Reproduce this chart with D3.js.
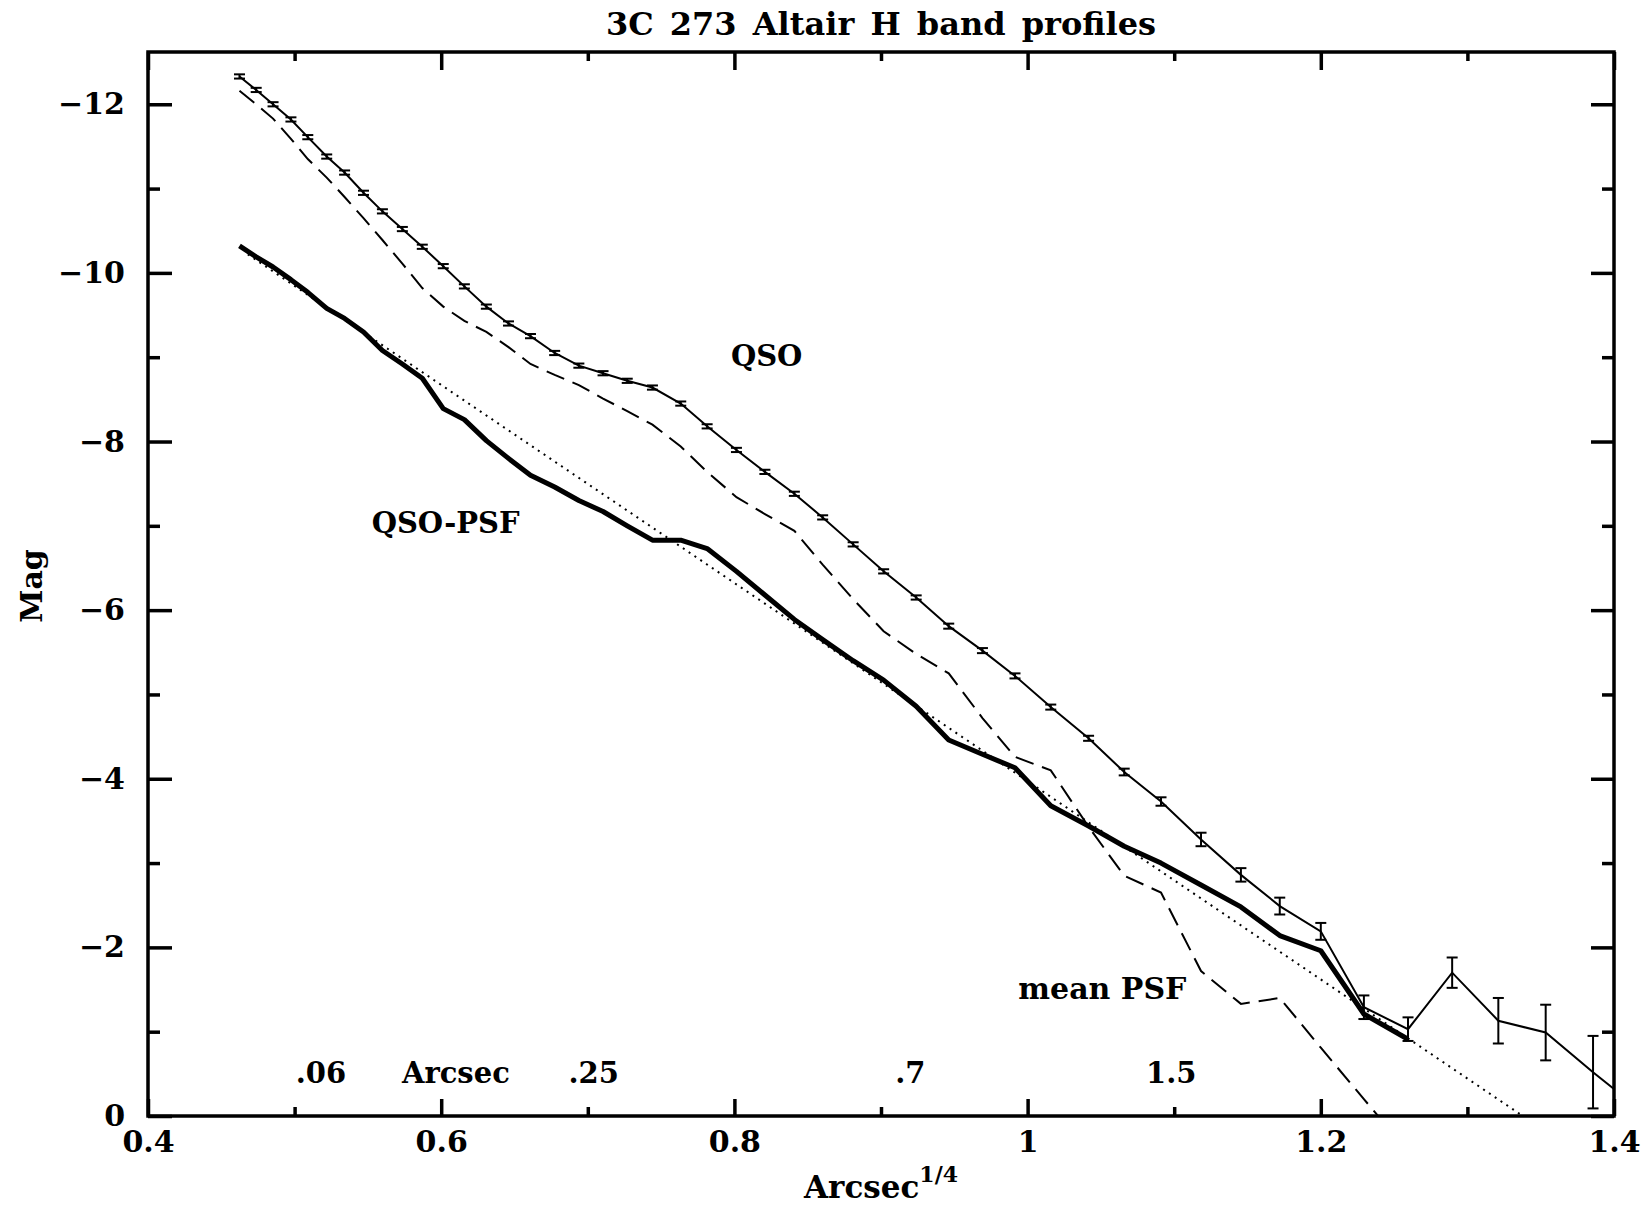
<!DOCTYPE html>
<html>
<head>
<meta charset="utf-8">
<script src="https://cdn.jsdelivr.net/npm/d3@7"></script>
<style>
    body { margin: 0; background: #fff; }
    text { font-family: "DejaVu Serif", serif; font-weight: bold; fill: #000; }
</style>
</head>
<body>
<div id="chart"></div>
<script>
/* radius in arcsec^(1/4) */
var radius = [0.4624, 0.4738, 0.4853, 0.4975, 0.5090, 0.5219, 0.5341, 0.5470, 0.5599, 0.5735,
    0.5871, 0.6014, 0.6158, 0.6308, 0.6459, 0.6609, 0.6774, 0.6939, 0.7104, 0.7269,
    0.7441, 0.7634, 0.7814, 0.8014, 0.8208, 0.8409, 0.8602, 0.8810, 0.9018, 0.9240,
    0.9462, 0.9692, 0.9914, 1.0158, 1.0416, 1.0659, 1.0910, 1.1183, 1.1455, 1.1720,
    1.2000, 1.2294, 1.2595, 1.2896, 1.3211, 1.3534, 1.3857, 1.4000];

/* QSO profile (thin line with error bars) */
var qsoMag = [-12.33, -12.17, -12.00, -11.82, -11.61, -11.38, -11.19, -10.95, -10.73, -10.52,
    -10.31, -10.08, -9.84, -9.60, -9.40, -9.25, -9.05, -8.90, -8.81, -8.72,
    -8.64, -8.45, -8.18, -7.90, -7.64, -7.38, -7.10, -6.78, -6.46, -6.15,
    -5.81, -5.52, -5.22, -4.85, -4.48, -4.08, -3.73, -3.28, -2.86, -2.49,
    -2.19, -1.29, -1.03, -1.70, -1.13, -0.99, -0.52, -0.32];
var qsoErr = [0.025, 0.025, 0.025, 0.025, 0.025, 0.025, 0.025, 0.025, 0.025, 0.025,
    0.025, 0.025, 0.025, 0.025, 0.025, 0.025, 0.025, 0.025, 0.025, 0.025,
    0.025, 0.025, 0.025, 0.025, 0.025, 0.025, 0.025, 0.025, 0.025, 0.025,
    0.03, 0.03, 0.03, 0.03, 0.03, 0.04, 0.05, 0.08, 0.08, 0.10,
    0.10, 0.14, 0.14, 0.18, 0.27, 0.33, 0.43, null];

/* QSO-PSF (thick line) */
var qsoPsfMag = [-10.32, -10.19, -10.07, -9.92, -9.77, -9.58, -9.46, -9.30, -9.08, -8.92,
    -8.75, -8.39, -8.26, -8.01, -7.80, -7.60, -7.46, -7.30, -7.17, -7.00,
    -6.83, -6.83, -6.73, -6.46, -6.18, -5.89, -5.65, -5.40, -5.17, -4.86,
    -4.46, -4.29, -4.13, -3.68, -3.44, -3.20, -3.00, -2.74, -2.48, -2.14,
    -1.96, -1.21, -0.91];

/* mean PSF (dashed line) */
var psfMag = [-12.16, -12.00, -11.83, -11.59, -11.35, -11.13, -10.90, -10.65, -10.39, -10.11,
    -9.82, -9.60, -9.43, -9.30, -9.12, -8.92, -8.79, -8.67, -8.51, -8.36,
    -8.20, -7.94, -7.64, -7.34, -7.14, -6.94, -6.54, -6.13, -5.75, -5.48,
    -5.25, -4.72, -4.26, -4.10, -3.43, -2.85, -2.65, -1.72, -1.33, -1.40,
    -0.81, -0.20, 0.42];

/* r^1/4 fit (dotted line) */
var fitRadius = [0.4681, 0.7602, 1.3378];
var fitMag = [-10.22, -6.79, 0];

var xMajor = [0.4, 0.6, 0.8, 1.0, 1.2, 1.4];
var xMinor = [0.5, 0.7, 0.9, 1.1, 1.3];
var yMajor = [0, -2, -4, -6, -8, -10, -12];
var yMinor = [-1, -3, -5, -7, -9, -11];

var arcsecLabels = [".06", "Arcsec", ".25", ".7", "1.5"];
var arcsecPos = [0.518, 0.610, 0.704, 0.920, 1.098];

var curveLabels = ["QSO", "QSO-PSF", "mean PSF"];
var curveLabelX = [0.822, 0.603, 1.051];
var curveLabelY = [-9.02, -7.04, -1.51];


ProfilePlot = function(_parentElement) {
    this.parentElement = _parentElement;
    this.initVis();
}

ProfilePlot.prototype.initVis = function() {
    var vis = this;

    vis.margin = {top: 52, right: 34, bottom: 89, left: 148};
    vis.width = 1648 - vis.margin.left - vis.margin.right;
    vis.height = 1205 - vis.margin.top - vis.margin.bottom;

    vis.svg = d3.select("#" + vis.parentElement).append("svg")
        .attr("width", 1648)
        .attr("height", 1205)
        .append("g")
        .attr("transform", "translate(" + vis.margin.left + "," + vis.margin.top + ")");

    vis.x = d3.scaleLinear().domain([0.4, 1.4]).range([0, vis.width]);
    vis.y = d3.scaleLinear().domain([0, -12.62]).range([vis.height, 0]);

    vis.svg.append("clipPath").attr("id", "plotclip")
        .append("rect")
        .attr("width", vis.width)
        .attr("height", vis.height);

    vis.drawAxes();
    vis.drawCurves();
    vis.drawText();
};

ProfilePlot.prototype.drawAxes = function() {
    var vis = this;

    function styleTicks(g) {
        g.select(".domain").remove();
        g.selectAll(".tick line").attr("stroke-width", 3.5);
        g.selectAll(".tick text").style("font-size", "30px");
    }

    // bottom
    vis.svg.append("g")
        .attr("transform", "translate(0," + vis.height + ")")
        .call(d3.axisBottom(vis.x).tickValues(xMajor).tickSize(-17).tickPadding(15)
            .tickFormat(d3.format("~g")))
        .call(styleTicks);
    vis.svg.append("g")
        .attr("transform", "translate(0," + vis.height + ")")
        .call(d3.axisBottom(vis.x).tickValues(xMinor).tickSize(-9).tickFormat(""))
        .call(styleTicks);

    // top
    vis.svg.append("g")
        .call(d3.axisTop(vis.x).tickValues(xMajor).tickSize(-18).tickFormat(""))
        .call(styleTicks);
    vis.svg.append("g")
        .call(d3.axisTop(vis.x).tickValues(xMinor).tickSize(-9).tickFormat(""))
        .call(styleTicks);

    // left
    vis.svg.append("g")
        .call(d3.axisLeft(vis.y).tickValues(yMajor).tickSize(-24).tickPadding(23)
            .tickFormat(d3.format("d")))
        .call(styleTicks);
    vis.svg.append("g")
        .call(d3.axisLeft(vis.y).tickValues(yMinor).tickSize(-12).tickFormat(""))
        .call(styleTicks);

    // right
    vis.svg.append("g")
        .attr("transform", "translate(" + vis.width + ",0)")
        .call(d3.axisRight(vis.y).tickValues(yMajor).tickSize(-23).tickFormat(""))
        .call(styleTicks);
    vis.svg.append("g")
        .attr("transform", "translate(" + vis.width + ",0)")
        .call(d3.axisRight(vis.y).tickValues(yMinor).tickSize(-12).tickFormat(""))
        .call(styleTicks);

    vis.svg.append("rect")
        .attr("width", vis.width)
        .attr("height", vis.height)
        .attr("fill", "none")
        .attr("stroke", "#000")
        .attr("stroke-width", 3.5);
};

ProfilePlot.prototype.drawCurves = function() {
    var vis = this;

    vis.qsoData = radius.map(function(r, i) {
        return {r: r, m: qsoMag[i], e: qsoErr[i]};
    });
    vis.qsoPsfData = qsoPsfMag.map(function(m, i) { return {r: radius[i], m: m}; });
    vis.psfData = psfMag.map(function(m, i) { return {r: radius[i], m: m}; });
    vis.fitData = fitRadius.map(function(r, i) { return {r: r, m: fitMag[i]}; });

    vis.line = d3.line()
        .x(function(d) { return vis.x(d.r); })
        .y(function(d) { return vis.y(d.m); });

    vis.curves = vis.svg.append("g").attr("clip-path", "url(#plotclip)");

    vis.curves.append("path")
        .datum(vis.fitData)
        .attr("d", vis.line)
        .attr("fill", "none")
        .attr("stroke", "#000")
        .attr("stroke-width", 2)
        .attr("stroke-dasharray", "2,5");

    vis.curves.append("path")
        .datum(vis.psfData)
        .attr("d", vis.line)
        .attr("fill", "none")
        .attr("stroke", "#000")
        .attr("stroke-width", 2)
        .attr("stroke-dasharray", "19,9");

    vis.curves.append("path")
        .datum(vis.qsoPsfData)
        .attr("d", vis.line)
        .attr("fill", "none")
        .attr("stroke", "#000")
        .attr("stroke-width", 5)
        .attr("stroke-linejoin", "round");

    vis.curves.append("path")
        .datum(vis.qsoData)
        .attr("d", vis.line)
        .attr("fill", "none")
        .attr("stroke", "#000")
        .attr("stroke-width", 2);

    // error bars
    vis.bars = vis.curves.selectAll(".errbar")
        .data(vis.qsoData.filter(function(d) { return d.e !== null; }))
        .enter().append("g")
        .attr("class", "errbar")
        .attr("stroke", "#000")
        .attr("stroke-width", 2);

    vis.bars.append("line")
        .attr("x1", function(d) { return vis.x(d.r); })
        .attr("x2", function(d) { return vis.x(d.r); })
        .attr("y1", function(d) { return vis.y(d.m - d.e); })
        .attr("y2", function(d) { return vis.y(d.m + d.e); });
    vis.bars.append("line")
        .attr("x1", function(d) { return vis.x(d.r) - 5.5; })
        .attr("x2", function(d) { return vis.x(d.r) + 5.5; })
        .attr("y1", function(d) { return vis.y(d.m - d.e); })
        .attr("y2", function(d) { return vis.y(d.m - d.e); });
    vis.bars.append("line")
        .attr("x1", function(d) { return vis.x(d.r) - 5.5; })
        .attr("x2", function(d) { return vis.x(d.r) + 5.5; })
        .attr("y1", function(d) { return vis.y(d.m + d.e); })
        .attr("y2", function(d) { return vis.y(d.m + d.e); });
};

ProfilePlot.prototype.drawText = function() {
    var vis = this;

    vis.svg.append("text")
        .attr("x", vis.width / 2)
        .attr("y", -17)
        .attr("text-anchor", "middle")
        .style("font-size", "32px")
        .style("word-spacing", "5px")
        .text("3C 273 Altair H band profiles");

    vis.svg.append("text")
        .attr("transform", "translate(" + (31 - vis.margin.left) + "," + (vis.height / 2 + 2) + ") rotate(-90)")
        .attr("text-anchor", "middle")
        .attr("dy", "0.35em")
        .style("font-size", "30px")
        .text("Mag");

    var xl = vis.svg.append("text")
        .attr("x", vis.width / 2)
        .attr("y", vis.height + 82)
        .attr("text-anchor", "middle")
        .style("font-size", "31px");
    xl.append("tspan").text("Arcsec");
    xl.append("tspan").attr("dy", -16).style("font-size", "22px").text("1/4");

    vis.svg.selectAll(".arcsec-label")
        .data(arcsecLabels)
        .enter().append("text")
        .attr("class", "arcsec-label")
        .attr("x", function(d, i) { return vis.x(arcsecPos[i]); })
        .attr("y", vis.height - 33)
        .attr("text-anchor", "middle")
        .style("font-size", "29px")
        .text(function(d) { return d; });

    vis.svg.selectAll(".curve-label")
        .data(curveLabels)
        .enter().append("text")
        .attr("class", "curve-label")
        .attr("x", function(d, i) { return vis.x(curveLabelX[i]); })
        .attr("y", function(d, i) { return vis.y(curveLabelY[i]); })
        .attr("dy", "0.36em")
        .attr("text-anchor", "middle")
        .style("font-size", function(d, i) { return i === 2 ? "30px" : "29px"; })
        .text(function(d) { return d; });
};

new ProfilePlot("chart");
</script>
</body>
</html>
